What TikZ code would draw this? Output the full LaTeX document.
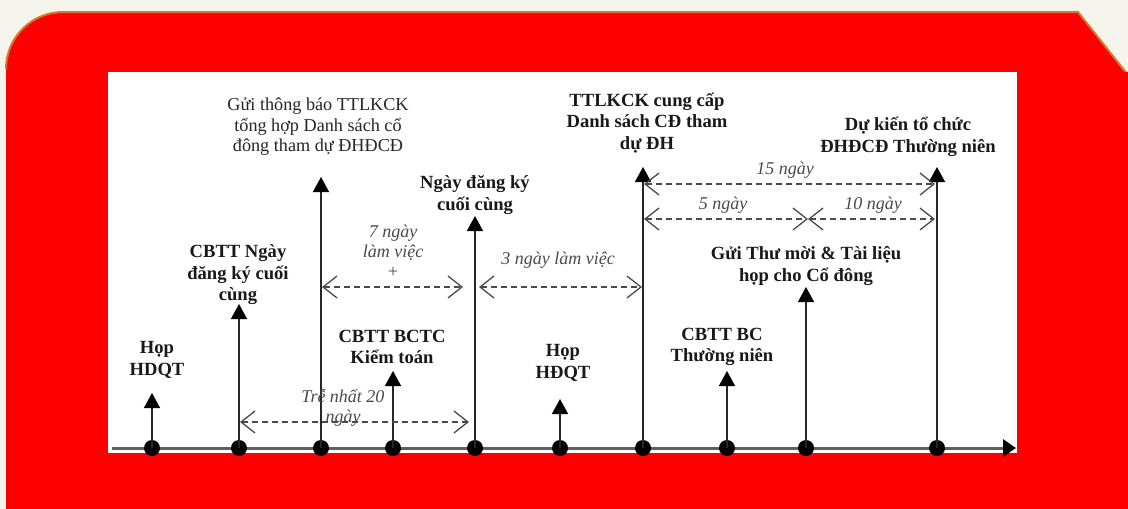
\documentclass[tikz,border=0pt]{standalone}
\usepackage{fontspec}
\setmainfont{Liberation Serif}
\usetikzlibrary{arrows.meta}
\definecolor{bgc}{HTML}{F4F3EC}
\definecolor{redc}{HTML}{FF0000}
\definecolor{edgec}{HTML}{D47A2C}
\definecolor{dashc}{HTML}{4A4A4A}
\begin{document}
\begin{tikzpicture}[x=1pt,y=-1pt,
  lbl/.style={font=\fontsize{18.6}{21.5}\selectfont\bfseries, align=center, inner sep=0pt, text=black!90},
  reg/.style={font=\fontsize{18.2}{20.5}\selectfont, align=center, inner sep=0pt, text=black!85},
  ital/.style={font=\fontsize{18}{20}\selectfont\itshape, align=center, inner sep=0pt, text=dashc},
  vline/.style={draw=black!85, line width=1.5pt, -{Triangle[length=15pt,width=16pt,color=black]}},
  spanarrow/.style={draw=dashc, line width=1.3pt, dash pattern=on 6pt off 4pt,
     {Straight Barb[length=14pt,width=22pt]}-{Straight Barb[length=14pt,width=22pt]}},
  dot/.style={circle, fill=black, minimum width=16pt, minimum height=15pt, inner sep=0pt},
  axisline/.style={draw=gray!75!black, line width=3pt, -{Triangle[length=13pt,width=17pt,color=black]}}]
\useasboundingbox (0,0) rectangle (1128,509);
% background and frame
\fill[bgc] (0,0) rectangle (1128,509);
\fill[redc] (6,509) -- (6,69) arc[start angle=180,end angle=90,radius=57pt] -- (1078,12) -- (1128,75) -- (1128,509) -- cycle;
\draw[edgec, line width=2pt] (6,69) arc[start angle=180,end angle=90,radius=57pt] -- (1078,12) -- (1128,75);
\fill[redc] (6,72) rectangle (1128,509);
\fill[white] (108,72) rectangle (1017,453);

% axis
\coordinate (ax0) at (112,448);
\coordinate (ax1) at (1016,448);
\draw[axisline] (ax0) -- (ax1);

% tops of the vertical arrows
\coordinate (t1) at (152,393);
\coordinate (t2) at (239,304);
\coordinate (t3) at (321,177);
\coordinate (t4) at (393,371);
\coordinate (t5) at (475,216);
\coordinate (t6) at (560,399);
\coordinate (t7) at (643,167);
\coordinate (t8) at (727,371);
\coordinate (t9) at (806,287);
\coordinate (t10) at (937,167);

% dots
\node[dot] (d1) at (152,448) {};
\node[dot] (d2) at (239,448) {};
\node[dot] (d3) at (321,448) {};
\node[dot] (d4) at (393,448) {};
\node[dot] (d5) at (475,448) {};
\node[dot] (d6) at (560,448) {};
\node[dot] (d7) at (643,448) {};
\node[dot] (d8) at (727,448) {};
\node[dot] (d9) at (806,448) {};
\node[dot] (d10) at (937,448) {};

\foreach \i in {1,...,10} { \draw[vline] (d\i.center) -- (t\i); }

% span arrows
\coordinate (s7a) at (322,287);  \coordinate (s7b) at (463,287);
\coordinate (s3a) at (479,287);  \coordinate (s3b) at (642,287);
\coordinate (s20a) at (240,422); \coordinate (s20b) at (469,422);
\coordinate (s15a) at (644,184); \coordinate (s15b) at (935,184);
\coordinate (s5a) at (644,219);  \coordinate (s5b) at (808,219);
\coordinate (s10a) at (808,219); \coordinate (s10b) at (935,219);
\draw[spanarrow] (s7a) -- (s7b);
\draw[spanarrow] (s3a) -- (s3b);
\draw[spanarrow] (s20a) -- (s20b);
\draw[spanarrow] (s15a) -- (s15b);
\draw[spanarrow] (s5a) -- (s5b);
\draw[spanarrow] (s10a) -- (s10b);

% labels
\node[lbl] (l1) at (157,360) {Họp\\HDQT};
\node[lbl] (l2) at (238,275) {CBTT Ngày\\đăng ký cuối\\cùng};
\node[reg] (l3) at (318,127) {Gửi thông báo TTLKCK\\tổng hợp Danh sách cổ\\đông tham dự ĐHĐCĐ};
\node[lbl] (l4) at (392,347) {CBTT BCTC\\Kiểm toán};
\node[lbl] (l5) at (475,195) {Ngày đăng ký\\cuối cùng};
\node[lbl] (l6) at (563,363) {Họp\\HĐQT};
\node[lbl] (l7) at (647,123) {TTLKCK cung cấp\\Danh sách CĐ tham\\dự ĐH};
\node[lbl] (l8) at (722,347) {CBTT BC\\Thường niên};
\node[lbl] (l9) at (806,266) {Gửi Thư mời \& Tài liệu\\họp cho Cổ đông};
\node[lbl] (l10) at (908,137) {Dự kiến tổ chức\\ĐHĐCĐ Thường niên};

\node[ital] (i7) at (393,251) {7 ngày\\làm việc\\+};
\node[ital] (i3) at (558,260) {3 ngày làm việc};
\node[ital] (i20) at (343,408) {Trễ nhất 20\\ngày};
\node[ital] (i15) at (785,170) {15 ngày};
\node[ital] (i5) at (723,205) {5 ngày};
\node[ital] (i10) at (873,205) {10 ngày};
\end{tikzpicture}
\end{document}
